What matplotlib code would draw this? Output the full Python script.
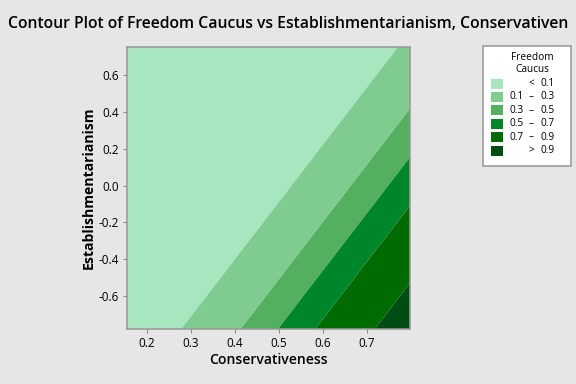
import matplotlib
matplotlib.use("Agg")
import matplotlib.pyplot as plt
from matplotlib.patches import Rectangle
import numpy as np

# fitted logistic surface (logit = b0 + b_cons*x + b_est*y)
b0 = -7.485
b_cons = 10.0
b_est = -3.22

x_lim = (0.155, 0.798)
y_lim = (-0.778, 0.751)

levels = [0.0, 0.1, 0.3, 0.5, 0.7, 0.9, 1.0]
colors = ['#a8e6bf', '#80cc90', '#52b05e', '#00862a', '#006b00', '#004d14']
labels = [('', '<', '0.1'), ('0.1', '–', '0.3'), ('0.3', '–', '0.5'),
          ('0.5', '–', '0.7'), ('0.7', '–', '0.9'), ('', '>', '0.9')]

plt.rcParams['font.family'] = ['Open Sans', 'DejaVu Sans']

bg = '#e6e6e6'
fig = plt.figure(figsize=(6, 4), dpi=96, facecolor=bg)
W, H = 576, 384

ax = fig.add_axes([127 / W, 1 - 329 / H, 283 / W, 282 / H])
gx = np.linspace(x_lim[0], x_lim[1], 400)
gy = np.linspace(y_lim[0], y_lim[1], 400)
X, Y = np.meshgrid(gx, gy)
Z = 1 / (1 + np.exp(-(b0 + b_cons * X + b_est * Y)))
ax.contourf(X, Y, Z, levels=levels, colors=colors, antialiased=True)
ax.set_xlim(*x_lim)
ax.set_ylim(*y_lim)
ax.set_xticks([0.2, 0.3, 0.4, 0.5, 0.6, 0.7])
ax.set_yticks([-0.6, -0.4, -0.2, 0.0, 0.2, 0.4, 0.6])
ax.set_yticklabels(['-0.6', '-0.4', '-0.2', '0.0', '0.2', '0.4', '0.6'])
ax.tick_params(labelsize=8.8, length=3, color='#888888', pad=3)
for s in ax.spines.values():
    s.set_color('#9a9a9a')
    s.set_linewidth(1.2)
ax.set_xlabel('Conservativeness', fontsize=10.5, fontweight='semibold', labelpad=2)
ax.set_ylabel('Establishmentarianism', fontsize=10.5, fontweight='bold', labelpad=2)

fig.text(0.5, 1 - 24 / H, 'Contour Plot of Freedom Caucus vs Establishmentarianism, Conservativen',
         ha='center', va='center', fontsize=11.85, fontweight='semibold')

# legend box drawn in pixel coords
lg = fig.add_axes([0, 0, 1, 1], facecolor='none')
lg.set_xlim(0, W)
lg.set_ylim(H, 0)
lg.axis('off')
lg.add_patch(Rectangle((483, 46), 88, 120, facecolor='white', edgecolor='#9a9a9a', lw=1.2))
lg.text(532, 57, 'Freedom', ha='center', va='center', fontsize=7.6)
lg.text(532, 70, 'Caucus', ha='center', va='center', fontsize=7.6)
for i, (c, (lo, dash, hi)) in enumerate(zip(colors, labels)):
    yc = 83.5 + i * 13.4
    lg.add_patch(Rectangle((491, yc - 5), 12, 10, facecolor=c, edgecolor='none'))
    if lo:
        lg.text(509, yc, lo, ha='left', va='center', fontsize=7.6)
    lg.text(531, yc, dash, ha='center', va='center', fontsize=7.6)
    lg.text(555, yc, hi, ha='right', va='center', fontsize=7.6)

fig.savefig('out.png', dpi=96, facecolor=bg)
